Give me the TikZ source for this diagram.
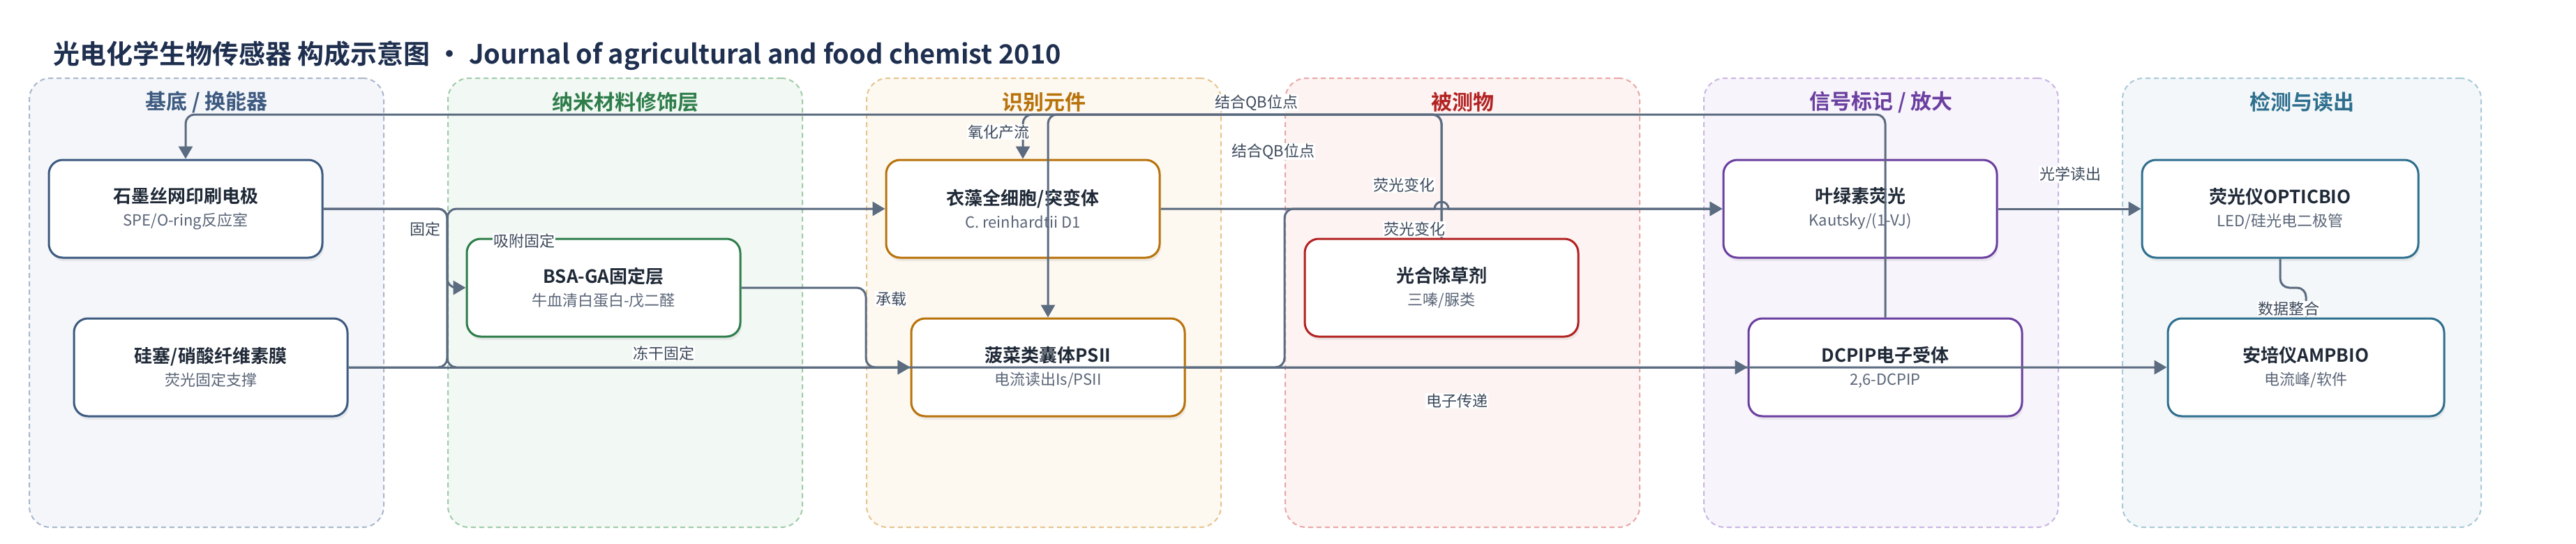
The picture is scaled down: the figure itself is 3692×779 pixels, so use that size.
\documentclass[tikz,border=0pt]{standalone}
\usepackage{fontspec}
\setmainfont{Noto Sans CJK SC}[BoldFont={* Bold}]
\usetikzlibrary{arrows.meta,shadows}

\definecolor{ink}{HTML}{1E2F4F}
\definecolor{edgec}{HTML}{5B6B80}
\definecolor{subc}{HTML}{5A6577}
\definecolor{labc}{HTML}{3D4A5C}
\definecolor{txtc}{HTML}{1F2937}
% lane colours: text/border of boxes, dashed frame, fill
\definecolor{baseC}{HTML}{3D5A80}\definecolor{baseB}{HTML}{A9B7CA}\definecolor{baseF}{HTML}{F4F6FA}
\definecolor{nanoC}{HTML}{2E7D4A}\definecolor{nanoB}{HTML}{9FCBAA}\definecolor{nanoF}{HTML}{F2F8F3}
\definecolor{recC}{HTML}{B8720A}\definecolor{recB}{HTML}{E6C48E}\definecolor{recF}{HTML}{FDF8F0}
\definecolor{anaC}{HTML}{B22222}\definecolor{anaB}{HTML}{E8A6A6}\definecolor{anaF}{HTML}{FDF3F2}
\definecolor{sigC}{HTML}{6B3FA0}\definecolor{sigB}{HTML}{CAB5E3}\definecolor{sigF}{HTML}{F7F4FB}
\definecolor{outC}{HTML}{2E6F8E}\definecolor{outB}{HTML}{A9C9D8}\definecolor{outF}{HTML}{F3F7F9}

\newcommand{\boxtext}[2]{{\fontsize{26}{33}\selectfont\bfseries\color{txtc}#1}\\{\color{subc}#2}}

\begin{document}
\begin{tikzpicture}[x=1pt, y=-1pt,
  lane/.style 2 args={draw=#1, fill=#2, dash pattern=on 7pt off 5pt, line width=2pt, rounded corners=30pt, minimum width=508pt, minimum height=643pt},
  lanetitle/.style={font=\fontsize{30}{34}\selectfont\bfseries, text=#1},
  box/.style={draw=#1, line width=3pt, rounded corners=20pt, fill=white, minimum width=392pt, minimum height=140pt, align=center, font=\fontsize{22}{33}\selectfont, drop shadow={shadow xshift=2pt, shadow yshift=-5pt, opacity=0.12}},
  flow/.style={draw=edgec, line width=3pt, rounded corners=13pt, -{Triangle[length=18pt,width=20pt]}},
  elabel/.style={fill=white, text=labc, font=\fontsize{22}{26}\selectfont, inner sep=1pt}]
\useasboundingbox (0,0) rectangle (3692,779);

\node[anchor=base west, inner sep=0, text=ink, font=\fontsize{38}{42}\selectfont\bfseries] (title) at (76,91) {光电化学生物传感器 构成示意图 · Journal of agricultural and food chemist 2010};

% lanes
\node[lane={baseB}{baseF}] (substrate) at (296,433.5) {};
\node[lane={nanoB}{nanoF}] (nano) at (896,433.5) {};
\node[lane={recB}{recF}] (recog) at (1496,433.5) {};
\node[lane={anaB}{anaF}] (analyte) at (2096,433.5) {};
\node[lane={sigB}{sigF}] (signal) at (2696,433.5) {};
\node[lane={outB}{outF}, minimum width=514pt] (readout) at (3299,433.5) {};
\node[lanetitle=baseC] (t1) at (296,146) {基底 / 换能器};
\node[lanetitle=nanoC] (t2) at (896,146) {纳米材料修饰层};
\node[lanetitle=recC] (t3) at (1496,146) {识别元件};
\node[lanetitle=anaC] (t4) at (2096,146) {被测物};
\node[lanetitle=sigC] (t5) at (2696,146) {信号标记 / 放大};
\node[lanetitle=outC] (t6) at (3299,146) {检测与读出};

% boxes
\node[box=baseC] (spe) at (266,299) {\boxtext{石墨丝网印刷电极}{SPE/O-ring反应室}};
\node[box=baseC] (membrane) at (302,526) {\boxtext{硅塞/硝酸纤维素膜}{荧光固定支撑}};
\node[box=nanoC] (bsa) at (865,412) {\boxtext{BSA-GA固定层}{牛血清白蛋白-戊二醛}};
\node[box=recC] (alga) at (1466,299) {\boxtext{衣藻全细胞/突变体}{C. reinhardtii D1}};
\node[box=recC] (psii) at (1502,526) {\boxtext{菠菜类囊体PSII}{电流读出Is/PSII}};
\node[box=anaC] (herb) at (2066,412) {\boxtext{光合除草剂}{三嗪/脲类}};
\node[box=sigC] (chl) at (2666,299) {\boxtext{叶绿素荧光}{Kautsky/(1-VJ)}};
\node[box=sigC] (dcpip) at (2702,526) {\boxtext{DCPIP电子受体}{2,6-DCPIP}};
\node[box=outC, minimum width=396pt] (optic) at (3268,299) {\boxtext{荧光仪OPTICBIO}{LED/硅光电二极管}};
\node[box=outC, minimum width=396pt] (ampero) at (3305,526) {\boxtext{安培仪AMPBIO}{电流峰/软件}};

\coordinate (topy) at (0,164);
\coordinate (midy) at (0,412);

% connectors
\draw[flow] (spe.east) -| (nano.west |- bsa.west) -- (bsa.west);
\draw[flow] (spe.east) -| (nano.west |- psii.west) -- (ampero.west);
\draw[flow] (membrane.east) -| (nano.west |- alga.west) -- (alga.west);
\draw[flow] (membrane.east) -- (psii.west);
\draw[flow] (bsa.east) -| (recog.west |- psii.west) -- (psii.west);
\draw[flow, sharp corners] (alga.east) -- ([xshift=-10pt]herb.north |- alga.east) arc[start angle=180, end angle=0, radius=10pt] -- (chl.west);
\draw[flow] (psii.east) -| (analyte.west |- chl.west) -- (chl.west);
\draw[flow] (psii.east) -- (dcpip.west);
\draw[flow] (herb.north) -- (herb.north |- topy) -| (alga.north);
\draw[flow] (herb.north) -- (herb.north |- topy) -| (psii.north);
\draw[flow] (dcpip.north) -- (dcpip.north |- topy) -| (spe.north);
\draw[flow] (chl.east) -- (optic.west);
\draw[flow] (optic.south) -- (optic.south |- midy) -- (ampero.north |- midy) -- (ampero.north);

% connector labels
\node[elabel] (l1) at (609,328) {固定};
\node[elabel] (l2) at (751,345) {吸附固定};
\node[elabel] (l3) at (951,506) {冻干固定};
\node[elabel] (l4) at (1277,428) {承载};
\node[elabel] (l5) at (1431,189) {氧化产流};
\node[elabel] (l6) at (1801,147) {结合QB位点};
\node[elabel] (l7) at (1825,217) {结合QB位点};
\node[elabel] (l8) at (2012,265) {荧光变化};
\node[elabel] (l9) at (2027,328) {荧光变化};
\node[elabel] (l10) at (2088,574) {电子传递};
\node[elabel] (l11) at (2967,249) {光学读出};
\node[elabel] (l12) at (3280,442) {数据整合};
\end{tikzpicture}
\end{document}
